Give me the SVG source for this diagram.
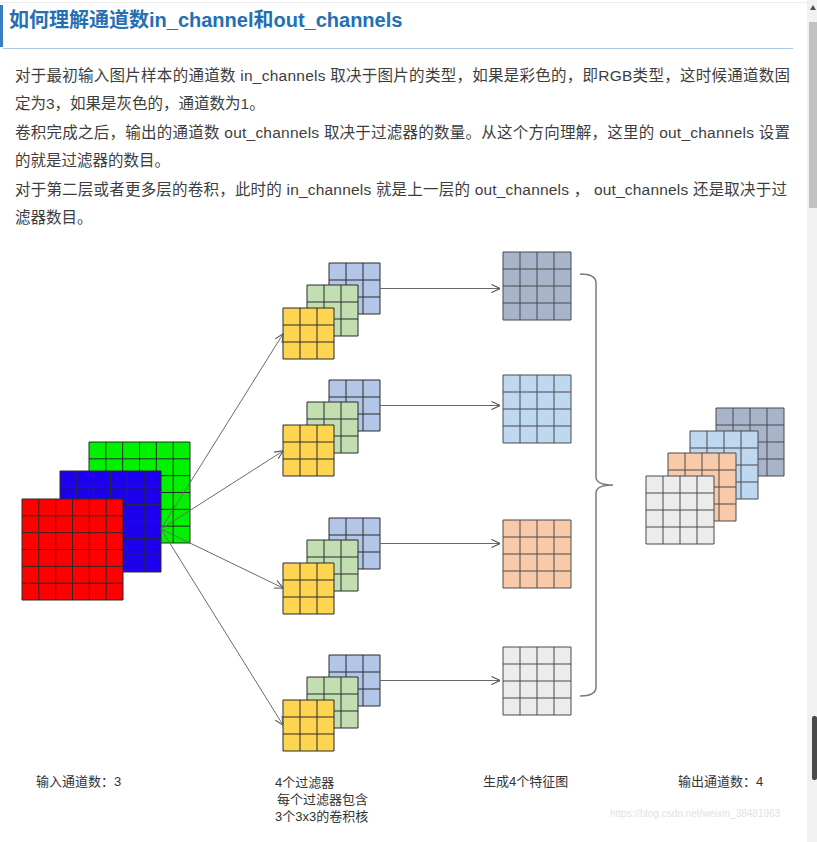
<svg xmlns="http://www.w3.org/2000/svg" xmlns:xlink="http://www.w3.org/1999/xlink" width="817" height="842" viewBox="0 0 817 842">
<style>
.title{font-family:'Liberation Sans','Noto Sans CJK SC',sans-serif;font-size:20px;font-weight:bold;fill:#2470b3}
.para{font-family:'Liberation Sans','Noto Sans CJK SC',sans-serif;font-size:15.5px;fill:#3d3d3d}
.lbl{font-family:'Liberation Sans','Noto Sans CJK SC',sans-serif;font-size:13px;fill:#333}
.wm{font-family:'Liberation Sans',sans-serif;font-size:10px;fill:#e2e2e2}
.grid{fill:none;stroke:#2a2a2a;stroke-width:1}
.gridl{fill:none;stroke:#4a4a4a;stroke-width:1}
.edge{fill:none;stroke:#6a6a6a;stroke-width:1}
.brace{fill:none;stroke:#7a7a7a;stroke-width:1.5}
</style>
<defs>
<marker id="ah" viewBox="0 0 10 10" refX="9.5" refY="5" markerWidth="9" markerHeight="9" markerUnits="userSpaceOnUse" orient="auto">
<path d="M0,0.5 L10,5 L0,9.5" fill="none" stroke="#555" stroke-width="1.2"/>
</marker>
<path id="g6" class="grid" d="M0,0h101v101h-101z M16.83,0v101 M33.67,0v101 M50.5,0v101 M67.33,0v101 M84.17,0v101 M0,16.83h101 M0,33.67h101 M0,50.5h101 M0,67.33h101 M0,84.17h101"/>
<path id="g3" class="grid" d="M0,0h51v51h-51z M17,0v51 M34,0v51 M0,17h51 M0,34h51"/>
<path id="g4" class="gridl" d="M0,0h68v68h-68z M17,0v68 M34,0v68 M51,0v68 M0,17h68 M0,34h68 M0,51h68"/>
</defs>
<rect width="817" height="842" fill="#fff"/>
<line x1="0" y1="2.5" x2="807" y2="2.5" stroke="#ececec"/>
<!-- header -->
<rect x="0" y="5" width="3" height="42" fill="#3a7fc0"/>
<text class="title" x="9" y="27">如何理解通道数in_channel和out_channels</text>
<line x1="3" y1="48.5" x2="793" y2="48.5" stroke="#a9c9e4" stroke-width="1"/>
<!-- paragraph -->
<text class="para" x="15" y="81" textLength="775" lengthAdjust="spacing">对于最初输入图片样本的通道数 in_channels 取决于图片的类型，如果是彩色的，即RGB类型，这时候通道数固</text>
<text class="para" x="15" y="109">定为3，如果是灰色的，通道数为1。</text>
<text class="para" x="15" y="138" textLength="775" lengthAdjust="spacing">卷积完成之后，输出的通道数 out_channels 取决于过滤器的数量。从这个方向理解，这里的 out_channels 设置</text>
<text class="para" x="15" y="166">的就是过滤器的数目。</text>
<text class="para" x="15" y="195" textLength="772" lengthAdjust="spacing">对于第二层或者更多层的卷积，此时的 in_channels 就是上一层的 out_channels ， out_channels 还是取决于过</text>
<text class="para" x="15" y="223">滤器数目。</text>
<!-- input image -->
<g id="input">
<rect x="89" y="442" width="101" height="101" fill="#00f200"/><use href="#g6" x="89" y="442"/>
<rect x="60" y="471" width="101" height="101" fill="#1c00ee"/><use href="#g6" x="60" y="471"/>
<rect x="22" y="499" width="101" height="101" fill="#ff0000"/><use href="#g6" x="22" y="499"/>
</g>
<!-- filters -->
<g id="filter1">
<rect x="329" y="263" width="51" height="51" fill="#b4c6e8"/><use href="#g3" x="329" y="263"/>
<rect x="307" y="285" width="51" height="51" fill="#c3dfb2"/><use href="#g3" x="307" y="285"/>
<rect x="283" y="308" width="51" height="51" fill="#fed550"/><use href="#g3" x="283" y="308"/>
</g>
<g id="filter2">
<rect x="329" y="380" width="51" height="51" fill="#b4c6e8"/><use href="#g3" x="329" y="380"/>
<rect x="307" y="402" width="51" height="51" fill="#c3dfb2"/><use href="#g3" x="307" y="402"/>
<rect x="283" y="425" width="51" height="51" fill="#fed550"/><use href="#g3" x="283" y="425"/>
</g>
<g id="filter3">
<rect x="329" y="518" width="51" height="51" fill="#b4c6e8"/><use href="#g3" x="329" y="518"/>
<rect x="307" y="540" width="51" height="51" fill="#c3dfb2"/><use href="#g3" x="307" y="540"/>
<rect x="283" y="563" width="51" height="51" fill="#fed550"/><use href="#g3" x="283" y="563"/>
</g>
<g id="filter4">
<rect x="329" y="655" width="51" height="51" fill="#b4c6e8"/><use href="#g3" x="329" y="655"/>
<rect x="307" y="677" width="51" height="51" fill="#c3dfb2"/><use href="#g3" x="307" y="677"/>
<rect x="283" y="700" width="51" height="51" fill="#fed550"/><use href="#g3" x="283" y="700"/>
</g>
<!-- feature maps -->
<g id="fmap1"><rect x="503" y="252" width="68" height="68" fill="#a7b4c9"/><use href="#g4" x="503" y="252"/></g>
<g id="fmap2"><rect x="503" y="375" width="68" height="68" fill="#bed8ef"/><use href="#g4" x="503" y="375"/></g>
<g id="fmap3"><rect x="503" y="520" width="68" height="68" fill="#f9caa9"/><use href="#g4" x="503" y="520"/></g>
<g id="fmap4"><rect x="503" y="647" width="68" height="68" fill="#ececec"/><use href="#g4" x="503" y="647"/></g>
<!-- output stack -->
<g id="output">
<rect x="716" y="408" width="68" height="68" fill="#a7b4c9"/><use href="#g4" x="716" y="408"/>
<rect x="690" y="431" width="68" height="68" fill="#bed8ef"/><use href="#g4" x="690" y="431"/>
<rect x="668" y="453" width="68" height="68" fill="#f9caa9"/><use href="#g4" x="668" y="453"/>
<rect x="646" y="476" width="68" height="68" fill="#ececec"/><use href="#g4" x="646" y="476"/>
</g>
<!-- connectors -->
<g id="connectors">
<line class="edge" x1="161" y1="529" x2="283" y2="334" marker-end="url(#ah)"/>
<line class="edge" x1="161" y1="529" x2="283" y2="451" marker-end="url(#ah)"/>
<line class="edge" x1="161" y1="529" x2="283" y2="588" marker-end="url(#ah)"/>
<line class="edge" x1="161" y1="529" x2="283" y2="725" marker-end="url(#ah)"/>
<line class="edge" x1="380" y1="288.5" x2="500" y2="288.5" marker-end="url(#ah)"/>
<line class="edge" x1="380" y1="405.5" x2="500" y2="405.5" marker-end="url(#ah)"/>
<line class="edge" x1="380" y1="543.5" x2="500" y2="543.5" marker-end="url(#ah)"/>
<line class="edge" x1="380" y1="680.5" x2="500" y2="680.5" marker-end="url(#ah)"/>
<path class="brace" d="M580,274 Q596,274 596,283 L596,477 Q596,485 613,485 Q596,485 596,493 L596,687 Q596,696 580,696"/>
</g>
<!-- labels -->
<text class="lbl" x="36" y="786">输入通道数：3</text>
<text class="lbl" x="275" y="787">4个过滤器</text>
<text class="lbl" x="277" y="804">每个过滤器包含</text>
<text class="lbl" x="275" y="821">3个3x3的卷积核</text>
<text class="lbl" x="483" y="786">生成4个特征图</text>
<text class="lbl" x="678" y="786">输出通道数：4</text>
<text class="wm" x="610" y="817">https://blog.csdn.net/weixin_38481963</text>
<!-- scrollbar -->
<rect x="807" y="0" width="10" height="842" fill="#f1f1f1"/>
<path d="M810,10 L813,5 L816,10z" fill="#505050"/>
<rect x="809" y="22" width="8" height="186" fill="#c1c1c1"/>
<rect x="812" y="716" width="5" height="64" rx="2" fill="#4a4a4a"/>
</svg>
